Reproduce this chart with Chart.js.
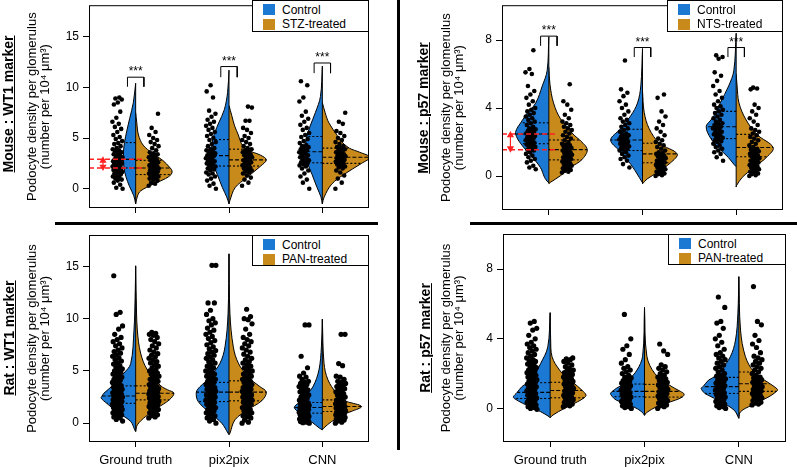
<!DOCTYPE html>
<html>
<head>
<meta charset="utf-8">
<script src="https://cdn.jsdelivr.net/npm/chart.js@4.4.0/dist/chart.umd.min.js"></script>
<style>
  body { margin: 0; background: #fff; width: 797px; height: 467px; position: relative; overflow: hidden; font-family: "Liberation Sans", Arial, sans-serif; }
  canvas { position: absolute; }
  .rule { position: absolute; background: #000; }
  .side { position: absolute; font-weight: bold; font-size: 14px; text-decoration: underline; white-space: nowrap; transform: translate(-50%, -50%) rotate(-90deg); }
  .legend { position: absolute; border: 1px solid #000; box-sizing: border-box; background: #fff; font-size: 12px; }
  .legend .sw { position: absolute; width: 12px; height: 11px; }
  .legend .tx { position: absolute; white-space: nowrap; line-height: 14px; }
</style>
</head>
<body>
<canvas id="mw" width="380" height="230" style="left:0;top:0"></canvas>
<canvas id="rw" width="380" height="237" style="left:0;top:230px"></canvas>
<canvas id="mp" width="387" height="230" style="left:410px;top:0"></canvas>
<canvas id="rp" width="387" height="237" style="left:410px;top:230px"></canvas>

<div class="rule" style="left:55px;top:222px;width:323px;height:3px"></div>
<div class="rule" style="left:470px;top:222px;width:327px;height:3px"></div>
<div class="rule" style="left:397px;top:0;width:3px;height:450px"></div>

<div class="side" style="left:8px;top:104px">Mouse : WT1 marker</div>
<div class="side" style="left:9px;top:338px">Rat : WT1 marker</div>
<div class="side" style="left:423px;top:108px">Mouse : p57 marker</div>
<div class="side" style="left:425px;top:338px">Rat : p57 marker</div>

<script>
const categories = ["Ground truth", "pix2pix", "CNN"];
const groupColors = ["#1c79d3", "#c98a1c"];

// ---- Mouse : WT1 marker ----
const mwLegend = ["Control", "STZ-treated"];
const mwTicks = [0, 5, 10, 15];
const mwCtrlShapes = [
  [[-1.5,0],[-0.7,0.02],[0.2,0.065],[1.2,0.105],[2.05,0.125],[2.9,0.13],[3.7,0.13],[4.55,0.12],[5.7,0.095],[6.9,0.065],[8.5,0.025],[10.4,0]],
  [[-1.5,0],[-0.8,0.025],[0.1,0.07],[1.4,0.125],[2.24,0.16],[3.27,0.18],[4.0,0.185],[4.85,0.175],[5.6,0.15],[6.5,0.11],[7.8,0.05],[9.5,0.015],[11.7,0]],
  [[-1.5,0],[-0.8,0.015],[0.13,0.057],[1.4,0.11],[2.56,0.16],[3.65,0.18],[4.3,0.18],[5.15,0.165],[6.2,0.13],[7.5,0.075],[9.1,0.02],[12.1,0]]
];
const mwTrtShapes = [
  [[-1.5,0],[-0.7,0.02],[-0.2,0.055],[0.45,0.19],[1.0,0.32],[1.4,0.38],[1.75,0.39],[2.05,0.37],[2.8,0.29],[3.5,0.18],[4.3,0.08],[5.3,0.03],[6.5,0.012],[7.5,0]],
  [[-1.5,0],[-1.15,0.01],[0.1,0.065],[1.1,0.19],[2.24,0.34],[2.85,0.4],[3.3,0.34],[3.9,0.18],[4.5,0.13],[5.3,0.1],[6.2,0.06],[7.2,0.03],[8.2,0]],
  [[-1.5,0],[-0.8,0.02],[0.45,0.1],[1.4,0.23],[2.5,0.42],[3.1,0.51],[3.6,0.4],[4.0,0.29],[4.6,0.21],[5.25,0.16],[6.5,0.07],[7.5,0.03],[8.5,0]]
];
const mwCtrlQuart = [[2.05, 2.9, 4.55], [2.24, 3.27, 4.85], [2.56, 3.65, 5.15]];
const mwTrtQuart = [[1.4, 2.05, 2.8], [2.24, 2.85, 3.9], [2.5, 3.1, 4.0]];
const mwCtrlPts = [
  [0.0,0.1,0.4,0.6,0.8,0.9,1.0,1.1,1.2,1.3,1.4,1.5,1.6,1.65,1.7,1.8,1.85,1.9,2.0,2.05,2.1,2.2,2.25,2.3,2.4,2.45,2.5,2.6,2.65,2.7,2.8,2.85,2.9,3.0,3.1,3.2,3.3,3.4,3.5,3.6,3.7,3.8,3.9,4.0,4.2,4.4,4.5,4.7,4.9,5.1,5.3,5.6,5.9,6.1,6.4,6.6,7.0,7.6,8.3,8.5,8.8,8.9,9.0],
  [0.0,0.3,0.5,0.8,1.0,1.2,1.4,1.5,1.6,1.8,1.9,2.0,2.1,2.2,2.3,2.4,2.5,2.6,2.7,2.8,2.9,3.0,3.1,3.2,3.3,3.4,3.5,3.6,3.7,3.8,3.9,4.0,4.2,4.4,4.6,4.8,5.0,5.2,5.4,5.6,5.8,6.0,6.2,6.4,6.6,6.8,7.1,7.4,7.7,9.0,9.6,10.2],
  [0.0,0.6,0.9,1.2,1.5,1.8,2.0,2.2,2.3,2.4,2.5,2.6,2.7,2.8,2.9,3.0,3.1,3.2,3.3,3.4,3.5,3.6,3.7,3.8,3.9,4.0,4.1,4.2,4.3,4.5,4.7,4.9,5.1,5.3,5.5,5.8,6.0,6.3,6.6,6.9,7.2,7.6,8.6,9.0,10.2,10.6]
];
const mwTrtPts = [
  [0.3,0.5,0.6,0.8,0.9,1.0,1.05,1.1,1.2,1.25,1.3,1.4,1.45,1.5,1.55,1.6,1.7,1.75,1.8,1.85,1.9,2.0,2.05,2.1,2.2,2.25,2.3,2.4,2.5,2.6,2.7,2.8,2.9,3.0,3.1,3.2,3.3,3.4,3.5,3.6,3.8,4.0,4.2,4.4,4.6,4.8,5.0,5.3,5.6,6.0,7.4],
  [0.3,0.6,0.9,1.1,1.3,1.5,1.6,1.7,1.8,1.9,2.0,2.1,2.2,2.3,2.4,2.5,2.6,2.7,2.8,2.9,3.0,3.1,3.2,3.3,3.4,3.5,3.6,3.7,3.8,3.9,4.0,4.2,4.4,4.6,4.8,5.0,5.2,5.5,5.8,6.0,6.7,6.7,8.0,8.1],
  [0.0,0.6,1.0,1.3,1.6,1.8,2.0,2.1,2.2,2.3,2.4,2.5,2.6,2.65,2.7,2.8,2.85,2.9,3.0,3.05,3.1,3.2,3.25,3.3,3.4,3.5,3.6,3.7,3.8,3.9,4.0,4.1,4.2,4.4,4.6,4.8,5.0,5.2,5.5,5.7,6.4,6.6,7.5]
];
const mwSig = [[10.06, 11.0], [11.0, 12.05], [11.4, 12.4]];
const mwMedianRef = [2.05, 2.9];

// ---- Mouse : p57 marker ----
const mpLegend = ["Control", "NTS-treated"];
const mpTicks = [0, 4, 8];
const mpCtrlShapes = [
  [[-0.4,0],[-0.3,0.02],[-0.08,0.046],[0.5,0.09],[1.26,0.2],[1.9,0.3],[2.47,0.355],[2.8,0.34],[3.13,0.3],[3.55,0.25],[4.3,0.14],[5.3,0.07],[6.2,0.018],[8.2,0]],
  [[-0.4,0],[-0.08,0.035],[0.69,0.125],[1.5,0.25],[2.12,0.34],[2.75,0.24],[3.55,0.125],[4.3,0.053],[5.3,0.018],[7.5,0]],
  [[0.55,0],[0.69,0.025],[1.07,0.08],[1.64,0.185],[2.2,0.27],[2.9,0.32],[3.36,0.26],[3.8,0.21],[4.3,0.17],[5.3,0.08],[6.2,0.025],[8.4,0]]
];
const mpTrtShapes = [
  [[-0.45,0],[-0.36,0.02],[0.02,0.125],[0.5,0.23],[0.95,0.35],[1.55,0.41],[2.12,0.33],[2.4,0.27],[3.36,0.125],[4.3,0.05],[5.4,0.012],[6.4,0]],
  [[-0.46,0],[-0.17,0.05],[0.21,0.16],[0.78,0.3],[1.3,0.37],[1.93,0.18],[2.8,0.07],[3.75,0.018],[5.0,0]],
  [[-0.65,0],[-0.55,0.005],[-0.08,0.065],[0.5,0.19],[1.13,0.33],[1.68,0.395],[2.45,0.22],[3.36,0.1],[4.3,0.03],[5.3,0.01],[6.0,0]]
];
const mpCtrlQuart = [[1.9, 2.47, 3.13], [1.5, 2.12, 2.75], [2.2, 2.9, 3.8]];
const mpTrtQuart = [[0.95, 1.55, 2.12], [0.78, 1.3, 1.93], [1.13, 1.68, 2.45]];
const mpCtrlPts = [
  [0.4,0.5,0.6,0.8,0.9,1.0,1.1,1.2,1.3,1.4,1.5,1.55,1.6,1.7,1.75,1.8,1.85,1.9,1.95,2.0,2.05,2.1,2.15,2.2,2.25,2.3,2.35,2.4,2.45,2.5,2.55,2.6,2.65,2.7,2.75,2.8,2.9,3.0,3.1,3.2,3.3,3.4,3.5,3.6,3.7,3.8,3.9,4.0,4.2,4.4,4.6,4.8,5.0,5.3,6.0,6.1,6.3,7.4],
  [0.5,0.7,0.9,1.0,1.1,1.2,1.3,1.4,1.5,1.55,1.6,1.65,1.7,1.75,1.8,1.85,1.9,1.95,2.0,2.05,2.1,2.15,2.2,2.25,2.3,2.35,2.4,2.45,2.5,2.6,2.7,2.8,2.9,3.0,3.1,3.2,3.3,3.4,3.6,3.8,4.0,4.2,4.4,4.7,4.9,5.1,6.8],
  [0.9,1.1,1.3,1.4,1.5,1.6,1.7,1.8,1.9,2.0,2.05,2.1,2.2,2.25,2.3,2.4,2.45,2.5,2.6,2.65,2.7,2.8,2.85,2.9,3.0,3.05,3.1,3.2,3.3,3.4,3.5,3.6,3.7,3.8,3.9,4.0,4.1,4.2,4.4,4.6,4.8,5.0,5.3,5.6,5.9,6.1,6.9,7.0,7.1]
];
const mpTrtPts = [
  [0.2,0.25,0.3,0.35,0.4,0.45,0.5,0.55,0.6,0.65,0.7,0.75,0.8,0.85,0.9,0.95,1.0,1.05,1.1,1.15,1.2,1.25,1.3,1.35,1.4,1.45,1.5,1.55,1.6,1.65,1.7,1.75,1.8,1.85,1.9,2.0,2.1,2.2,2.3,2.4,2.5,2.6,2.7,2.8,2.9,3.0,3.1,3.2,3.4,3.6,3.9,4.2,4.4,5.4],
  [0.0,0.05,0.1,0.15,0.2,0.25,0.3,0.35,0.4,0.45,0.5,0.55,0.6,0.65,0.7,0.75,0.8,0.85,0.9,0.95,1.0,1.05,1.1,1.15,1.2,1.25,1.3,1.35,1.4,1.5,1.6,1.7,1.8,1.9,2.0,2.1,2.2,2.4,2.6,2.8,3.0,3.2,3.5,3.8,4.6,4.8],
  [0.0,0.05,0.1,0.15,0.2,0.25,0.3,0.35,0.4,0.45,0.5,0.55,0.6,0.65,0.7,0.75,0.8,0.85,0.9,0.95,1.0,1.05,1.1,1.15,1.2,1.25,1.3,1.35,1.4,1.45,1.5,1.55,1.6,1.7,1.8,1.9,2.0,2.1,2.2,2.3,2.4,2.5,2.6,2.7,2.8,3.0,3.2,3.4,3.6,3.8,4.0,4.2,5.1,5.15,5.2]
];
const mpSig = [[7.66, 8.23], [7.0, 7.56], [7.0, 7.56]];
const mpMedianRef = [1.55, 2.47];

// ---- Rat : WT1 marker ----
const rwLegend = ["Control", "PAN-treated"];
const rwTicks = [0, 5, 10, 15];
const rwCtrlShapes = [
  [[-0.8,0],[-0.64,0.01],[0.16,0.053],[0.96,0.18],[1.9,0.31],[2.4,0.37],[2.6,0.36],[2.87,0.34],[3.57,0.25],[4.8,0.125],[5.7,0.053],[8.9,0.018],[12,0.006],[15.05,0]],
  [[-1.1,0],[-0.96,0.01],[0,0.078],[0.96,0.2],[2.07,0.33],[2.97,0.35],[3.5,0.31],[3.9,0.26],[4.47,0.2],[5.74,0.096],[7.3,0.043],[10.5,0.01],[16.2,0]],
  [[-0.64,0],[-0.48,0.03],[0.16,0.12],[0.96,0.24],[1.5,0.3],[1.98,0.25],[2.55,0.19],[3.5,0.1],[5.1,0.036],[7.3,0.01],[9.95,0]]
];
const rwTrtShapes = [
  [[-0.8,0],[-0.16,0.018],[0.64,0.107],[1.44,0.23],[2.23,0.36],[2.87,0.41],[3.2,0.34],[3.57,0.27],[5.1,0.125],[6.7,0.053],[8.9,0.018],[12,0.006],[15.05,0]],
  [[-1.1,0],[-0.96,0.01],[0.32,0.064],[1.28,0.2],[2.14,0.35],[2.97,0.4],[3.5,0.33],[4.05,0.25],[4.47,0.2],[5.74,0.1],[7.3,0.046],[10.5,0.01],[16.2,0]],
  [[-0.64,0],[-0.48,0.014],[0.16,0.1],[0.96,0.26],[1.12,0.31],[1.6,0.42],[2.07,0.26],[2.23,0.22],[2.87,0.15],[4.15,0.06],[5.74,0.018],[9.95,0]]
];
const rwCtrlQuart = [[1.9, 2.6, 3.57], [2.07, 2.97, 3.9], [0.96, 1.5, 1.98]];
const rwTrtQuart = [[2.23, 2.87, 3.57], [2.14, 2.97, 4.05], [1.12, 1.6, 2.23]];
const rwCtrlPts = [
  [0.2,0.35,0.5,0.6,0.7,0.8,0.85,0.9,1.0,1.05,1.1,1.2,1.25,1.3,1.4,1.45,1.5,1.55,1.6,1.7,1.75,1.8,1.85,1.9,2.0,2.05,2.1,2.15,2.2,2.25,2.3,2.35,2.4,2.45,2.5,2.55,2.6,2.65,2.7,2.75,2.8,2.85,2.9,3.0,3.05,3.1,3.2,3.25,3.3,3.4,3.45,3.5,3.6,3.7,3.8,3.9,4.0,4.1,4.2,4.3,4.4,4.5,4.6,4.7,4.8,4.9,5.0,5.1,5.2,5.35,5.5,5.65,5.8,5.95,6.1,6.25,6.4,6.55,6.7,6.85,7.0,7.2,7.4,7.6,7.8,8.0,8.2,8.5,9.0,9.3,10.4,10.6,14.1],
  [0.0,0.2,0.35,0.5,0.6,0.7,0.8,0.9,1.0,1.1,1.2,1.3,1.4,1.5,1.6,1.7,1.8,1.9,2.0,2.05,2.1,2.2,2.25,2.3,2.4,2.45,2.5,2.6,2.65,2.7,2.8,2.85,2.9,3.0,3.05,3.1,3.2,3.25,3.3,3.4,3.5,3.6,3.7,3.8,3.9,4.0,4.1,4.2,4.3,4.4,4.5,4.6,4.7,4.8,4.9,5.0,5.15,5.3,5.45,5.6,5.75,5.9,6.05,6.2,6.35,6.5,6.65,6.8,6.95,7.1,7.3,7.5,7.7,7.9,8.1,8.3,8.5,8.7,8.9,9.1,9.4,9.6,9.8,10.0,10.4,10.8,11.5,11.5,15.1,15.1],
  [0.0,0.05,0.1,0.15,0.2,0.25,0.3,0.35,0.4,0.45,0.5,0.55,0.6,0.65,0.7,0.75,0.8,0.85,0.9,0.95,1.0,1.05,1.1,1.15,1.2,1.25,1.3,1.35,1.4,1.45,1.5,1.55,1.6,1.65,1.7,1.75,1.8,1.85,1.9,1.95,2.0,2.1,2.2,2.3,2.4,2.5,2.6,2.7,2.8,2.9,3.0,3.1,3.2,3.3,3.4,3.5,3.6,3.7,3.8,3.9,4.0,4.2,4.4,4.5,4.8,5.3,6.4,9.4,9.4]
];
const rwTrtPts = [
  [0.5,0.6,0.7,0.8,0.9,1.0,1.1,1.2,1.3,1.35,1.4,1.5,1.55,1.6,1.7,1.75,1.8,1.9,1.95,2.0,2.05,2.1,2.2,2.25,2.3,2.35,2.4,2.45,2.5,2.55,2.6,2.65,2.7,2.75,2.8,2.85,2.9,2.95,3.0,3.1,3.15,3.2,3.3,3.35,3.4,3.5,3.6,3.7,3.8,3.9,4.0,4.1,4.2,4.3,4.4,4.5,4.6,4.7,4.8,4.9,5.0,5.15,5.3,5.45,5.6,5.75,5.9,6.05,6.2,6.35,6.5,6.65,6.8,7.0,7.2,7.4,7.6,7.8,8.0,8.2,8.4,8.5,8.6,8.7],
  [0.0,0.1,0.3,0.5,0.6,0.7,0.8,0.9,1.0,1.1,1.2,1.3,1.4,1.5,1.6,1.7,1.8,1.9,2.0,2.05,2.1,2.2,2.25,2.3,2.4,2.45,2.5,2.6,2.65,2.7,2.8,2.85,2.9,3.0,3.05,3.1,3.2,3.25,3.3,3.4,3.5,3.6,3.7,3.8,3.9,4.0,4.1,4.2,4.3,4.4,4.5,4.6,4.7,4.8,4.9,5.0,5.15,5.3,5.45,5.6,5.75,5.9,6.05,6.2,6.4,6.6,6.8,7.0,7.2,7.4,7.6,7.8,8.0,8.2,8.5,9.0,9.5,9.9,10.0,10.2,10.9],
  [0.0,0.1,0.2,0.3,0.35,0.4,0.45,0.5,0.55,0.6,0.65,0.7,0.75,0.8,0.85,0.9,0.95,1.0,1.05,1.1,1.15,1.2,1.25,1.3,1.35,1.4,1.45,1.5,1.55,1.6,1.65,1.7,1.75,1.8,1.85,1.9,1.95,2.0,2.1,2.2,2.3,2.4,2.5,2.6,2.7,2.8,2.9,3.0,3.1,3.2,3.3,3.4,3.5,3.6,3.7,3.8,3.9,4.0,4.2,4.4,4.5,5.5,5.7,8.5,8.5]
];

// ---- Rat : p57 marker ----
const rpLegend = ["Control", "PAN-treated"];
const rpTicks = [0, 4, 8];
const rpCtrlShapes = [
  [[-0.54,0],[-0.48,0.01],[-0.19,0.1],[0.29,0.29],[0.57,0.38],[0.67,0.39],[0.92,0.35],[1.25,0.3],[1.48,0.24],[1.82,0.18],[2.59,0.1],[3.54,0.025],[5.5,0]],
  [[-0.4,0],[-0.19,0.03],[0.1,0.12],[0.48,0.3],[0.67,0.34],[0.86,0.36],[0.98,0.34],[1.15,0.3],[1.4,0.22],[1.63,0.17],[2.2,0.08],[3.0,0.02],[5.8,0]],
  [[-0.57,0],[-0.1,0.05],[0.38,0.19],[0.77,0.33],[0.86,0.36],[1.15,0.4],[1.25,0.38],[1.63,0.32],[1.78,0.27],[2.2,0.19],[2.97,0.09],[3.93,0.035],[5.46,0.01],[7.57,0]]
];
const rpTrtShapes = [
  [[-0.54,0],[-0.38,0.03],[0,0.15],[0.38,0.29],[0.61,0.36],[0.77,0.38],[1.03,0.34],[1.5,0.24],[1.63,0.2],[2.2,0.1],[2.97,0.02],[4.0,0.005],[5.5,0]],
  [[-0.4,0],[-0.25,0.02],[0.1,0.13],[0.48,0.33],[0.65,0.4],[0.82,0.42],[0.98,0.38],[1.38,0.25],[2.0,0.11],[3.0,0.025],[5.8,0]],
  [[-0.57,0],[-0.19,0.018],[0.19,0.14],[0.67,0.32],[0.98,0.4],[1.09,0.41],[1.42,0.33],[1.63,0.27],[2.09,0.16],[2.97,0.07],[4.5,0.018],[7.57,0]]
];
const rpCtrlQuart = [[0.57, 0.92, 1.48], [0.67, 0.98, 1.4], [0.86, 1.25, 1.78]];
const rpTrtQuart = [[0.61, 1.03, 1.5], [0.65, 0.98, 1.38], [0.98, 1.42, 2.09]];
const rpCtrlPts = [
  [-0.05,0.0,0.05,0.1,0.15,0.2,0.25,0.3,0.35,0.4,0.45,0.5,0.55,0.6,0.65,0.7,0.75,0.8,0.85,0.9,0.95,1.0,1.05,1.1,1.15,1.2,1.25,1.3,1.35,1.4,1.45,1.5,1.55,1.6,1.65,1.7,1.75,1.8,1.85,1.9,1.95,2.0,2.05,2.1,2.15,2.2,2.3,2.35,2.4,2.5,2.55,2.6,2.7,2.75,2.8,2.9,3.0,3.1,3.2,3.3,3.4,3.5,3.6,3.7,3.8,4.0,4.2,4.5,4.6,4.9,5.0],
  [0.0,0.05,0.1,0.15,0.2,0.25,0.3,0.35,0.4,0.45,0.5,0.55,0.6,0.65,0.7,0.75,0.8,0.85,0.9,0.95,1.0,1.05,1.1,1.15,1.2,1.25,1.3,1.35,1.4,1.45,1.5,1.55,1.6,1.7,1.75,1.8,1.9,2.0,2.1,2.2,2.3,2.4,2.6,2.8,3.1,3.4,3.6,4.0,5.4],
  [0.0,0.05,0.1,0.15,0.2,0.25,0.3,0.35,0.4,0.45,0.5,0.55,0.6,0.65,0.7,0.75,0.8,0.85,0.9,0.95,1.0,1.05,1.1,1.15,1.2,1.25,1.3,1.35,1.4,1.45,1.5,1.55,1.6,1.65,1.7,1.75,1.8,1.85,1.9,2.0,2.1,2.2,2.3,2.4,2.5,2.6,2.7,2.8,2.9,3.0,3.1,3.2,3.4,3.6,3.8,4.0,4.2,4.6,4.9,5.0,5.8,6.4]
];
const rpTrtPts = [
  [0.1,0.15,0.2,0.25,0.3,0.35,0.4,0.45,0.5,0.55,0.6,0.65,0.7,0.75,0.8,0.85,0.9,0.95,1.0,1.05,1.1,1.15,1.2,1.25,1.3,1.35,1.4,1.45,1.5,1.55,1.6,1.65,1.7,1.75,1.8,1.85,1.9,1.95,2.0,2.05,2.1,2.15,2.2,2.3,2.4,2.5,2.6,2.7,2.8,2.85,2.9],
  [0.0,0.1,0.15,0.2,0.25,0.3,0.35,0.4,0.45,0.5,0.55,0.6,0.65,0.7,0.75,0.8,0.85,0.9,0.95,1.0,1.05,1.1,1.15,1.2,1.25,1.3,1.35,1.4,1.45,1.5,1.55,1.6,1.7,1.75,1.8,1.9,2.0,2.1,2.2,2.3,2.4,2.5,3.1,3.3,3.7],
  [0.2,0.25,0.3,0.35,0.4,0.45,0.5,0.55,0.6,0.65,0.7,0.75,0.8,0.85,0.9,0.95,1.0,1.05,1.1,1.15,1.2,1.25,1.3,1.35,1.4,1.45,1.5,1.55,1.6,1.65,1.7,1.75,1.8,1.9,2.0,2.1,2.2,2.3,2.4,2.5,2.6,2.7,2.8,2.9,3.0,3.2,3.5,3.7,3.9,4.2,4.8,5.0,7.0]
];

const FONT = "'Liberation Sans', Arial, sans-serif";
const RED = "#ff2020";

// frame around the plot area + "***" labels over the brackets
const framePlugin = {
  id: "frame",
  afterDraw(chart) {
    const { ctx, chartArea: a } = chart;
    ctx.save();
    ctx.strokeStyle = "#000";
    ctx.lineWidth = 1;
    ctx.strokeRect(a.left + 0.5, a.top + 0.5, a.right - a.left - 1, a.bottom - a.top - 1);
    const sig = chart.options.plugins.frame.sig;
    if (sig) {
      ctx.fillStyle = "#000";
      ctx.font = "12px " + FONT;
      ctx.textAlign = "center";
      ctx.textBaseline = "alphabetic";
      sig.forEach((s, i) => {
        ctx.fillText("***", chart.scales.x.getPixelForValue(i + 1), chart.scales.y.getPixelForValue(s[1]) - 2);
      });
    }
    ctx.restore();
  }
};

function makePanel(id, p) {
  const datasets = [];
  const groups = [
    { shapes: p.ctrlShapes, quart: p.ctrlQuart, pts: p.ctrlPts, sgn: -1, color: groupColors[0] },
    { shapes: p.trtShapes, quart: p.trtQuart, pts: p.trtPts, sgn: 1, color: groupColors[1] }
  ];
  categories.forEach((name, ci) => {
    const c = ci + 1;
    groups.forEach(g => {
      const shape = g.shapes[ci];
      // half violin
      datasets.push({
        data: shape.map(([v, w]) => ({ x: c + g.sgn * w, y: v })),
        fill: "shape", backgroundColor: g.color, borderColor: "#000", borderWidth: 1,
        pointRadius: 0, tension: 0.35, order: 5
      });
      // quartile / median dashes
      g.quart[ci].forEach((q, qi) => {
        const k = shape.find(s => s[0] === q);
        if (!k) return;
        datasets.push({
          data: [{ x: c, y: q }, { x: c + g.sgn * k[1], y: q }],
          borderColor: "#000", borderWidth: 1.1, borderDash: qi === 1 ? [4, 2] : [2, 2],
          pointRadius: 0, fill: false, order: 3
        });
      });
      // jittered points
      datasets.push({
        data: g.pts[ci].map((v, i) => ({ x: c + g.sgn * (0.14 + 0.11 * ((i * 0.618034) % 1)), y: v })),
        showLine: false, pointRadius: p.r, pointBackgroundColor: "#000", pointBorderWidth: 0, order: 1
      });
    });
    const a = p.ctrlShapes[ci], b = p.trtShapes[ci];
    datasets.push({
      data: [{ x: c, y: Math.min(a[0][0], b[0][0]) }, { x: c, y: Math.max(a[a.length - 1][0], b[b.length - 1][0]) }],
      borderColor: "#000", borderWidth: 1, pointRadius: 0, fill: false, order: 2
    });
    if (p.sig) {
      const [leg, top] = p.sig[ci];
      datasets.push({
        data: [{ x: c - 0.088, y: leg }, { x: c - 0.088, y: top }, { x: c + 0.088, y: top }, { x: c + 0.088, y: leg }],
        borderColor: "#000", borderWidth: 1, pointRadius: 0, fill: false, tension: 0, order: 1
      });
    }
  });
  if (p.medRef) {
    p.medRef.forEach(m => {
      datasets.push({
        data: [{ x: 0.5, y: m }, { x: 1.085, y: m }],
        borderColor: RED, borderWidth: 1.5, borderDash: [5, 3], pointRadius: 0, fill: false, order: 0
      });
    });
    datasets.push({
      data: [{ x: p.arrowX, y: p.medRef[0] + 0.12 * p.arrowPad }, { x: p.arrowX, y: p.medRef[1] - 0.12 * p.arrowPad }],
      borderColor: RED, borderWidth: 1.2, pointStyle: "triangle", pointRadius: 3,
      pointRotation: [180, 0], pointBackgroundColor: RED, pointBorderColor: RED, fill: false, order: 0
    });
  }

  new Chart(document.getElementById(id), {
    type: "line",
    data: { datasets },
    options: {
      responsive: false, animation: false, events: [],
      layout: { padding: p.pad },
      plugins: { legend: { display: false }, tooltip: { enabled: false }, frame: { sig: p.sig } },
      scales: {
        x: {
          type: "linear", min: 0.5, max: 3.5,
          afterBuildTicks: ax => { ax.ticks = categories.map((_, i) => ({ value: i + 1 })); },
          afterFit: ax => { ax.height = p.xh; ax.paddingLeft = 0; ax.paddingRight = 0; },
          ticks: { display: p.showCats, color: "#000", padding: 6, font: { family: FONT, size: 13 },
                   callback: v => categories[v - 1], maxRotation: 0, autoSkip: false },
          grid: { display: true, drawOnChartArea: false, drawTicks: true, tickLength: 5, color: "#000" },
          border: { display: false }
        },
        y: {
          min: p.ymin, max: p.ymax,
          afterBuildTicks: ax => { ax.ticks = p.ticks.map(v => ({ value: v })); },
          afterFit: ax => { ax.width = p.yw; ax.paddingTop = 0; ax.paddingBottom = 0; },
          ticks: { color: "#000", padding: 4, font: { family: FONT, size: 12 } },
          grid: { display: true, drawOnChartArea: false, drawTicks: true, tickLength: 6, color: "#000" },
          border: { display: false },
          title: {
            display: true, color: "#000",
            text: ["Podocyte density per glomerulus", "(number per 10\u2074 \u03bcm\u00b3)"],
            font: { family: FONT, size: 13, lineHeight: 1.0 },
            padding: { top: p.titlePad, bottom: 0 }
          }
        }
      }
    },
    plugins: [framePlugin]
  });
}

function makeLegend(left, top, width, height, labels) {
  const box = document.createElement("div");
  box.className = "legend";
  Object.assign(box.style, { left: left + "px", top: top + "px", width: width + "px", height: height + "px" });
  labels.forEach((t, i) => {
    const sw = document.createElement("div");
    sw.className = "sw";
    Object.assign(sw.style, { left: "10px", top: (3 + i * 14.5) + "px", background: groupColors[i] });
    const tx = document.createElement("div");
    tx.className = "tx";
    tx.textContent = t;
    Object.assign(tx.style, { left: "29px", top: (1.5 + i * 14.5) + "px" });
    box.appendChild(sw);
    box.appendChild(tx);
  });
  document.body.appendChild(box);
}

makePanel("mw", {
  ctrlShapes: mwCtrlShapes, trtShapes: mwTrtShapes, ctrlQuart: mwCtrlQuart, trtQuart: mwTrtQuart,
  ctrlPts: mwCtrlPts, trtPts: mwTrtPts, sig: mwSig, medRef: mwMedianRef, arrowX: 0.65, arrowPad: 1,
  ticks: mwTicks, ymin: -1.9, ymax: 18.1, r: 2.3, showCats: false,
  pad: { left: 0, top: 0, right: 11, bottom: 0 }, yw: 89, xh: 22, titlePad: 26
});
makePanel("rw", {
  ctrlShapes: rwCtrlShapes, trtShapes: rwTrtShapes, ctrlQuart: rwCtrlQuart, trtQuart: rwTrtQuart,
  ctrlPts: rwCtrlPts, trtPts: rwTrtPts,
  ticks: rwTicks, ymin: -1.8, ymax: 18.0, r: 2.6, showCats: true,
  pad: { left: 0, top: 5, right: 11, bottom: 0 }, yw: 89, xh: 25, titlePad: 26
});
makePanel("mp", {
  ctrlShapes: mpCtrlShapes, trtShapes: mpTrtShapes, ctrlQuart: mpCtrlQuart, trtQuart: mpTrtQuart,
  ctrlPts: mpCtrlPts, trtPts: mpTrtPts, sig: mpSig, medRef: mpMedianRef, arrowX: 0.59, arrowPad: 0.6,
  ticks: mpTicks, ymin: -2.0, ymax: 10.05, r: 2.3, showCats: false,
  pad: { left: 0, top: 0, right: 14, bottom: 0 }, yw: 92, xh: 20, titlePad: 30
});
makePanel("rp", {
  ctrlShapes: rpCtrlShapes, trtShapes: rpTrtShapes, ctrlQuart: rpCtrlQuart, trtQuart: rpTrtQuart,
  ctrlPts: rpCtrlPts, trtPts: rpTrtPts,
  ticks: rpTicks, ymin: -1.93, ymax: 10.02, r: 2.6, showCats: true,
  pad: { left: 0, top: 4, right: 11, bottom: 0 }, yw: 93, xh: 25, titlePad: 30
});

makeLegend(252, 0, 117, 32, mwLegend);
makeLegend(667, 0, 116, 32, mpLegend);
makeLegend(252, 235, 117, 31, rwLegend);
makeLegend(668, 234, 118, 31, rpLegend);
</script>
</body>
</html>
